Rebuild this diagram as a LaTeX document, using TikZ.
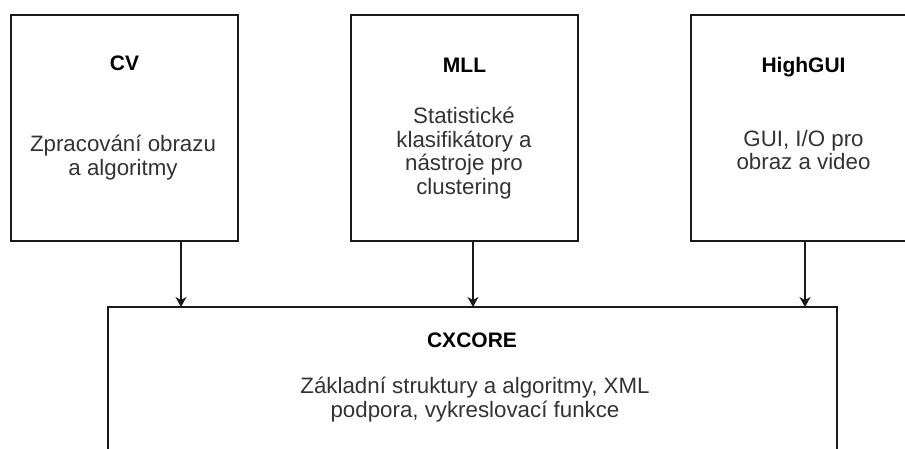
\documentclass[tikz,border=0pt]{standalone}
\usepackage{fontspec}
\setmainfont{Liberation Sans}
\usetikzlibrary{arrows.meta}
\definecolor{linecol}{HTML}{1A1A1A}
\definecolor{bodycol}{HTML}{333333}
\tikzset{
  module/.style={draw=linecol, line width=1.3pt, fill=white},
  title/.style={anchor=base, inner sep=0pt, text=black,
    font=\fontsize{21}{23.5}\selectfont\bfseries},
  body/.style={anchor=base, inner sep=0pt, align=center, text=bodycol,
    font=\fontsize{22.3}{23.5}\selectfont},
  link/.style={draw=linecol, line width=1.3pt,
    -{Stealth[length=10pt, width=11pt, inset=3pt]}}
}
\begin{document}
\begin{tikzpicture}[x=1pt, y=-1pt]
  \useasboundingbox (0,0) rectangle (905,448);
  \clip (0,0) rectangle (905,448);

  % module boxes
  \path[module] (11,15) rectangle (238,241);
  \coordinate (cvS) at (181,241);
  \path[module] (351,15) rectangle (578,241);
  \coordinate (mllS) at (473,241);
  \path[module] (691,15) rectangle (918,241);
  \coordinate (guiS) at (805,241);
  \path[module] (108,307) rectangle (837,480);
  \coordinate (coreA) at (181,307);
  \coordinate (coreB) at (473,307);
  \coordinate (coreC) at (805,307);

  % texts
  \node[title] (cvT) at (124.5,70) {CV};
  \node[body]  (cvB) at (123,175) {Zpracování obrazu\\a algoritmy};

  \node[title] (mllT) at (464.5,72) {MLL};
  \node[body]  (mllB) at (464,194) {Statistické\\klasifikátory a\\nástroje pro\\clustering};

  \node[title] (guiT) at (803.5,72) {HighGUI};
  \node[body]  (guiB) at (803.5,169.5) {GUI, I/O pro\\obraz a video};

  \node[title] (coreT) at (472,347) {CXCORE};
  \node[body]  (coreB2) at (475,417) {Základní struktury a algoritmy, XML\\podpora, vykreslovací funkce};

  % dependencies
  \draw[link] (cvS) -- (coreA);
  \draw[link] (mllS) -- (coreB);
  \draw[link] (guiS) -- (coreC);
\end{tikzpicture}
\end{document}
